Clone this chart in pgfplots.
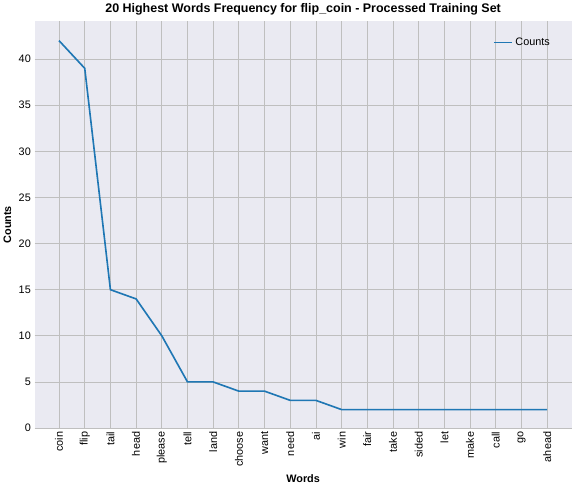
\documentclass[border=0pt]{standalone}
\usepackage{pgfplots}
\pgfplotsset{compat=1.18}
\usepackage{fontspec}
\setmainfont{Liberation Sans}
\definecolor{bg}{HTML}{EAEAF2}
\definecolor{c1}{HTML}{1F77B4}
\begin{document}
\begin{tikzpicture}
\begin{axis}[
  width=495pt, height=375pt, scale only axis,
  /pgf/number format/assume math mode=true,
  axis background/.style={fill=bg},
  axis line style={draw=none},
  grid=major, grid style={draw=black!25, line width=0.8pt},
  major tick length=0pt,
  xmin=-0.95, xmax=19.95, ymin=0, ymax=44.1,
  ytick={0,5,...,40},
  xtick={0,...,19},
  xticklabels={coin,flip,tail,head,please,tell,land,choose,want,need,ai,win,fair,take,sided,let,make,call,go,ahead},
  xticklabel style={rotate=90, anchor=east, font=\fontsize{10}{12}\selectfont},
  yticklabel style={font=\fontsize{10}{12}\selectfont},
  xlabel={\textbf{Words}}, ylabel={\textbf{Counts}},
  label style={font=\fontsize{10}{12}\selectfont},
  title={\textbf{20 Highest Words Frequency for flip\_coin - Processed Training Set}},
  title style={font=\fontsize{11.5}{13}\selectfont, yshift=-4pt},
  legend style={draw=none, fill=none, font=\fontsize{10}{12}\selectfont, at={(0.97,0.97)}, anchor=north east},
  legend cell align=left,
]
\addplot[c1, line width=1.5pt] coordinates {
(0,42)(1,39)(2,15)(3,14)(4,10)(5,5)(6,5)(7,4)(8,4)(9,3)(10,3)(11,2)(12,2)(13,2)(14,2)(15,2)(16,2)(17,2)(18,2)(19,2)};
\addlegendentry{Counts}
\end{axis}
\end{tikzpicture}
\end{document}
